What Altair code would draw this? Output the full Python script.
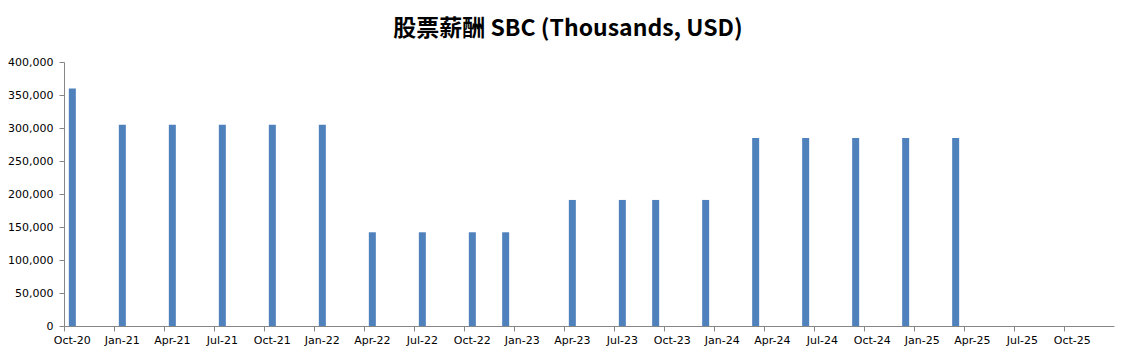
import altair as alt
import pandas as pd

# Bar categories (month of each bar) and SBC values (thousands USD)
bar_months = ["Oct-20", "Jan-21", "Apr-21", "Jul-21", "Oct-21", "Jan-22",
              "Apr-22", "Jul-22", "Oct-22", "Dec-22",
              "Apr-23", "Jul-23", "Sep-23", "Dec-23",
              "Mar-24", "Jun-24", "Sep-24", "Dec-24", "Mar-25"]
sbc_values = [360000, 305000, 305000, 305000, 305000, 305000,
              142000, 142000, 142000, 142000,
              191000, 191000, 191000, 191000,
              285000, 285000, 285000, 285000, 285000]

# Axis: monthly slots Oct-20 .. Dec-25, labelled quarterly
all_months = [d.strftime("%b-%y") for d in pd.date_range("2020-10-01", "2025-12-01", freq="MS")]
tick_labels = ["Oct-20", "Jan-21", "Apr-21", "Jul-21", "Oct-21", "Jan-22", "Apr-22",
               "Jul-22", "Oct-22", "Jan-23", "Apr-23", "Jul-23", "Oct-23", "Jan-24",
               "Apr-24", "Jul-24", "Oct-24", "Jan-25", "Apr-25", "Jul-25", "Oct-25"]
y_ticks = [0, 50000, 100000, 150000, 200000, 250000, 300000, 350000, 400000]

df = pd.DataFrame({"month": bar_months, "sbc": sbc_values})

axis_color = "#868686"
label_font = "DejaVu Sans"

chart = alt.Chart(df).mark_bar(size=7, color="#4F81BD").encode(
    x=alt.X("month:N",
            scale=alt.Scale(domain=all_months, paddingInner=0, paddingOuter=0),
            sort=all_months,
            axis=alt.Axis(values=tick_labels, title=None, labelAngle=0,
                          bandPosition=0, tickSize=5, tickColor=axis_color,
                          domainColor=axis_color, labelFont=label_font,
                          labelFontSize=11, labelColor="#000000",
                          labelPadding=3, grid=False)),
    y=alt.Y("sbc:Q",
            scale=alt.Scale(domain=[0, 400000], nice=False),
            axis=alt.Axis(values=y_ticks, format=",.0f", title=None, tickSize=5,
                          tickColor=axis_color, domainColor=axis_color,
                          labelFont=label_font, labelFontSize=11,
                          labelColor="#000000", labelPadding=6, grid=False)),
).properties(
    width=1050,
    height=264,
    background="white",
    title=alt.TitleParams("股票薪酬 SBC (Thousands, USD)", font="Noto Sans CJK SC",
                          fontSize=23, fontWeight="bold", color="#000000",
                          anchor="middle", dx=-21, baseline="alphabetic", offset=-3),
    autosize=alt.AutoSizeParams(type="none"),
    padding={"left": 64, "top": 62, "right": 7, "bottom": 35},
).configure_view(strokeWidth=0)

chart.save("out.html", embed_options={"renderer": "svg", "actions": False})
